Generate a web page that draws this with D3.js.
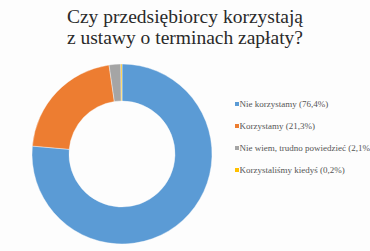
<!DOCTYPE html>
<html>
<head>
<meta charset="utf-8">
<script src="https://cdn.jsdelivr.net/npm/d3@7"></script>
<style>
  body { margin: 0; background: #fdfdfd; }
</style>
</head>
<body>
<div id="chart"></div>
<script>
// dane z wykresu
const categories = ["Nie korzystamy", "Korzystamy", "Nie wiem, trudno powiedzieć", "Korzystaliśmy kiedyś"];
const values = [76.4, 21.3, 2.1, 0.2];
const labels = ["Nie korzystamy (76,4%)", "Korzystamy (21,3%)", "Nie wiem, trudno powiedzieć (2,1%)", "Korzystaliśmy kiedyś (0,2%)"];
const colors = ["#5b9bd5", "#ed7d31", "#a5a5a5", "#ffc000"];
const titleLines = ["Czy przedsiębiorcy korzystają", "z ustawy o terminach zapłaty?"];

const width = 370, height = 251;

const svg = d3.select("#chart")
  .append("svg")
  .attr("width", width)
  .attr("height", height);

svg.append("rect")
  .attr("width", width)
  .attr("height", height)
  .attr("fill", "#fdfdfd");

// tytuł
svg.append("g")
  .selectAll("text")
  .data(titleLines)
  .join("text")
  .attr("x", 185)
  .attr("y", (d, i) => 23 + i * 21)
  .attr("text-anchor", "middle")
  .style("font-family", "'Liberation Serif', serif")
  .style("font-size", "19.5px")
  .style("fill", "#2a2a2a")
  .text(d => d);

// pierścień
const cx = 122, cy = 154;
const outer = 90, inner = 53;

const pie = d3.pie().sort(null).value(d => d);
const arc = d3.arc().innerRadius(inner).outerRadius(outer);

const color = d3.scaleOrdinal().domain(categories).range(colors);

svg.append("g")
  .attr("transform", `translate(${cx},${cy})`)
  .selectAll("path")
  .data(pie(values))
  .join("path")
  .attr("d", arc)
  .attr("fill", (d, i) => color(categories[i]))
  .attr("stroke", "#fdfdfd")
  .attr("stroke-width", 0.4);

// legenda
const legendY = d3.scalePoint().domain(categories).range([104, 170]);

const legend = svg.append("g")
  .selectAll("g")
  .data(categories)
  .join("g")
  .attr("transform", d => `translate(235,${legendY(d)})`);

legend.append("rect")
  .attr("x", 0)
  .attr("y", -2)
  .attr("width", 4)
  .attr("height", 4)
  .attr("fill", d => color(d));

legend.append("text")
  .attr("x", 4.5)
  .attr("y", 0)
  .attr("dy", "0.35em")
  .style("font-family", "'Liberation Serif', serif")
  .style("font-size", "9px")
  .style("fill", "#555")
  .text((d, i) => labels[i]);
</script>
</body>
</html>
